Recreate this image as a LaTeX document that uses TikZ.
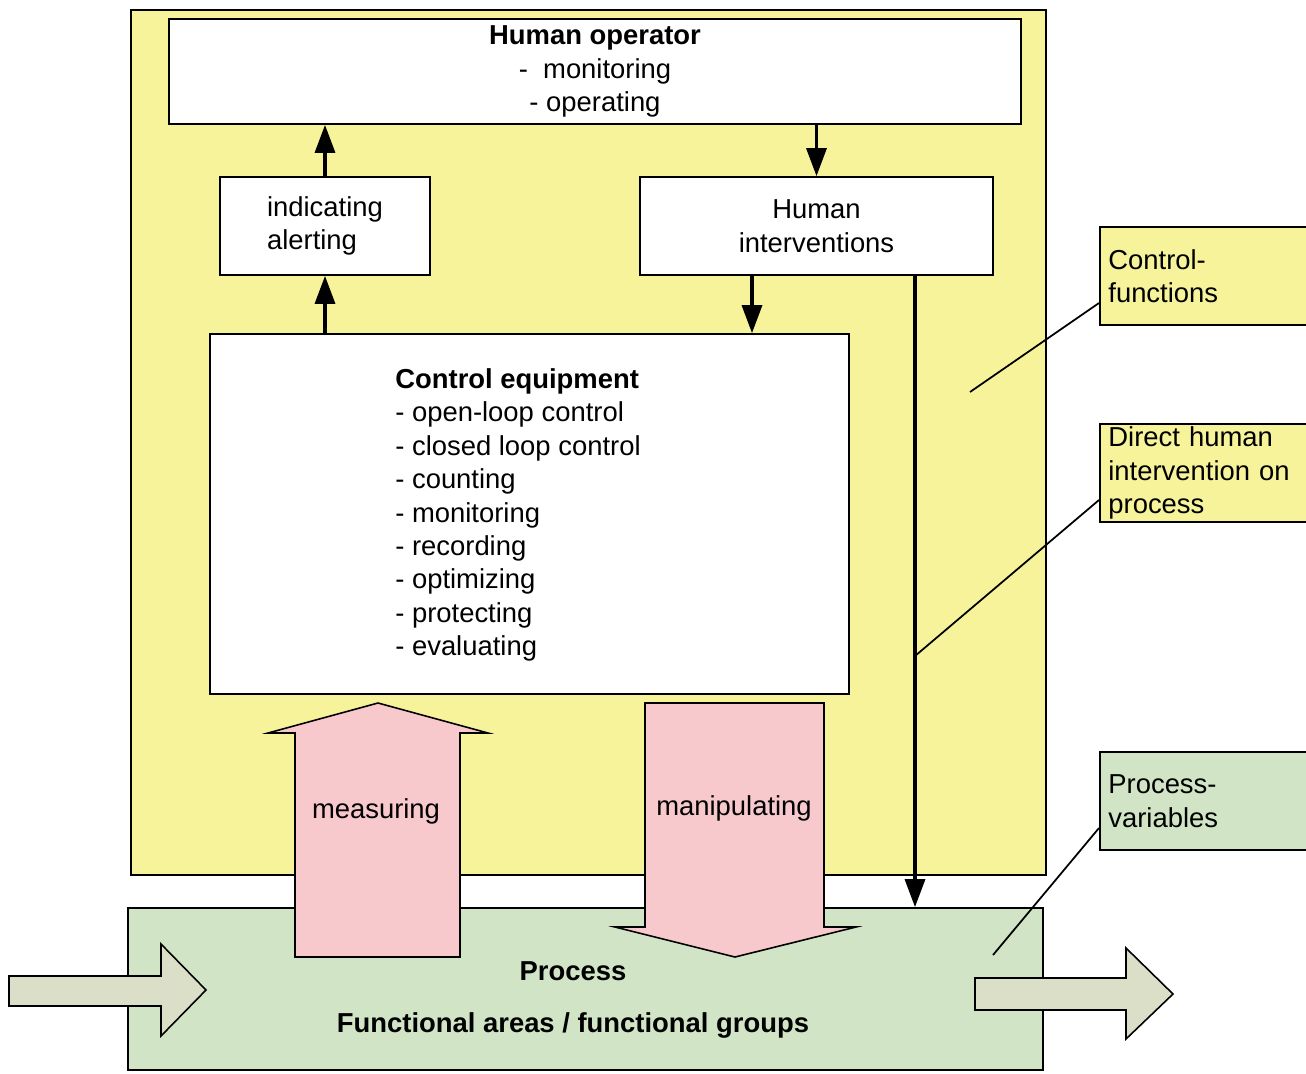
\documentclass[tikz,border=0pt]{standalone}
\usepackage{fontspec}
\setmainfont{Liberation Sans}
\usepackage{xcolor}
\usetikzlibrary{arrows.meta}

\definecolor{areayellow}{RGB}{247,243,155}
\definecolor{procgreen}{RGB}{209,229,198}
\definecolor{actpink}{RGB}{248,201,204}
\definecolor{flowgray}{RGB}{220,223,200}
\newcommand{\mainsize}{\fontsize{15.6pt}{19pt}\selectfont}

\begin{document}
\begin{tikzpicture}[
    x=0.2mm, y=-0.2mm,
    every node/.style={font=\mainsize},
    box/.style={draw, line width=1pt, fill=white, inner sep=0pt},
    note/.style={draw, line width=1pt, minimum width=4.3cm, minimum height=1.96cm,
                 text width=3.96cm, align=left, inner xsep=0.16cm, inner ysep=0.04cm},
    arrow/.style={-{Triangle[length=0.56cm, width=0.4cm]}, line width=1.9pt},
    callout/.style={line width=1pt},
    block/.style={draw, line width=0.9pt}
]
    \useasboundingbox (0,0) rectangle (1306,1073);

    \node[box, fill=areayellow, minimum width=18.3cm, minimum height=17.3cm] (area) at (588.5,442.5) {};
    \node[box, fill=procgreen, minimum width=18.3cm, minimum height=3.24cm] (proc) at (585.5,989) {};

    \node[box, minimum width=17.04cm, minimum height=2.1cm, align=center] (op) at (595,71.5)
        {\textbf{Human operator}\\-\ \ monitoring\\- operating};
    \node[box, minimum width=4.2cm, minimum height=1.96cm, align=left] (ind) at (325,226)
        {indicating\\alerting};
    \node[box, minimum width=7.06cm, minimum height=1.96cm, align=center] (hi) at (816.5,226)
        {Human\\interventions};
    \node[box, minimum width=12.78cm, minimum height=7.2cm] (ctrl) at (529.5,514) {};
    \node[align=left] (ctrltxt) at (518,515)
        {\textbf{Control equipment}\\- open-loop control\\- closed loop control\\- counting\\- monitoring\\- recording\\- optimizing\\- protecting\\- evaluating};

    \draw[block, fill=actpink] (295,957) -- (295,733) -- (268,733) -- (378,703) -- (488,733) -- (460,733) -- (460,957) -- cycle;
    \node (meas) at (376,811) {measuring};
    \draw[block, fill=actpink] (645,703) -- (824,703) -- (824,927) -- (856,927) -- (735,957) -- (615,927) -- (645,927) -- cycle;
    \node (manip) at (734,808) {manipulating};

    \node[font=\mainsize\bfseries, align=center] (proctxt) at (573,1000)
        {Process\\[0.39cm]Functional areas / functional groups};

    \draw[block, fill=flowgray] (9,976) -- (161,976) -- (161,944) -- (206,990) -- (161,1036) -- (161,1006) -- (9,1006) -- cycle;
    \draw[block, fill=flowgray] (975,978) -- (1126,978) -- (1126,948) -- (1173,994) -- (1126,1039) -- (1126,1010) -- (975,1010) -- cycle;

    \node[note, fill=areayellow, anchor=west] (cf) at (1099,276) {Control-\\functions};
    \node[note, fill=areayellow, anchor=west] (dh) at (1099,473) {Direct human\\intervention on\\process};
    \node[note, fill=procgreen, anchor=west] (pv) at (1099,801) {Process-\\variables};

    \coordinate (cfpt) at (970,392);
    \coordinate (dhpt) at (915,656);
    \coordinate (pvpt) at (993,955);
    \coordinate (hidown) at ([xshift=-1.29cm]hi.south);

    \draw[arrow] (ctrl.north -| ind.south) -- (ind.south);
    \draw[arrow] (ind.north) -- (op.south -| ind.north);
    \draw[arrow] (op.south -| hi.north) -- (hi.north);
    \draw[arrow] (hidown) -- (hidown |- ctrl.north);
    \draw[arrow] (hi.south -| dhpt) -- (proc.north -| dhpt);

    \draw[callout] ([yshift=-0.54cm]cf.west) -- (cfpt);
    \draw[callout] ([yshift=-0.54cm]dh.west) -- (dhpt);
    \draw[callout] ([yshift=-0.54cm]pv.west) -- (pvpt);
\end{tikzpicture}
\end{document}
